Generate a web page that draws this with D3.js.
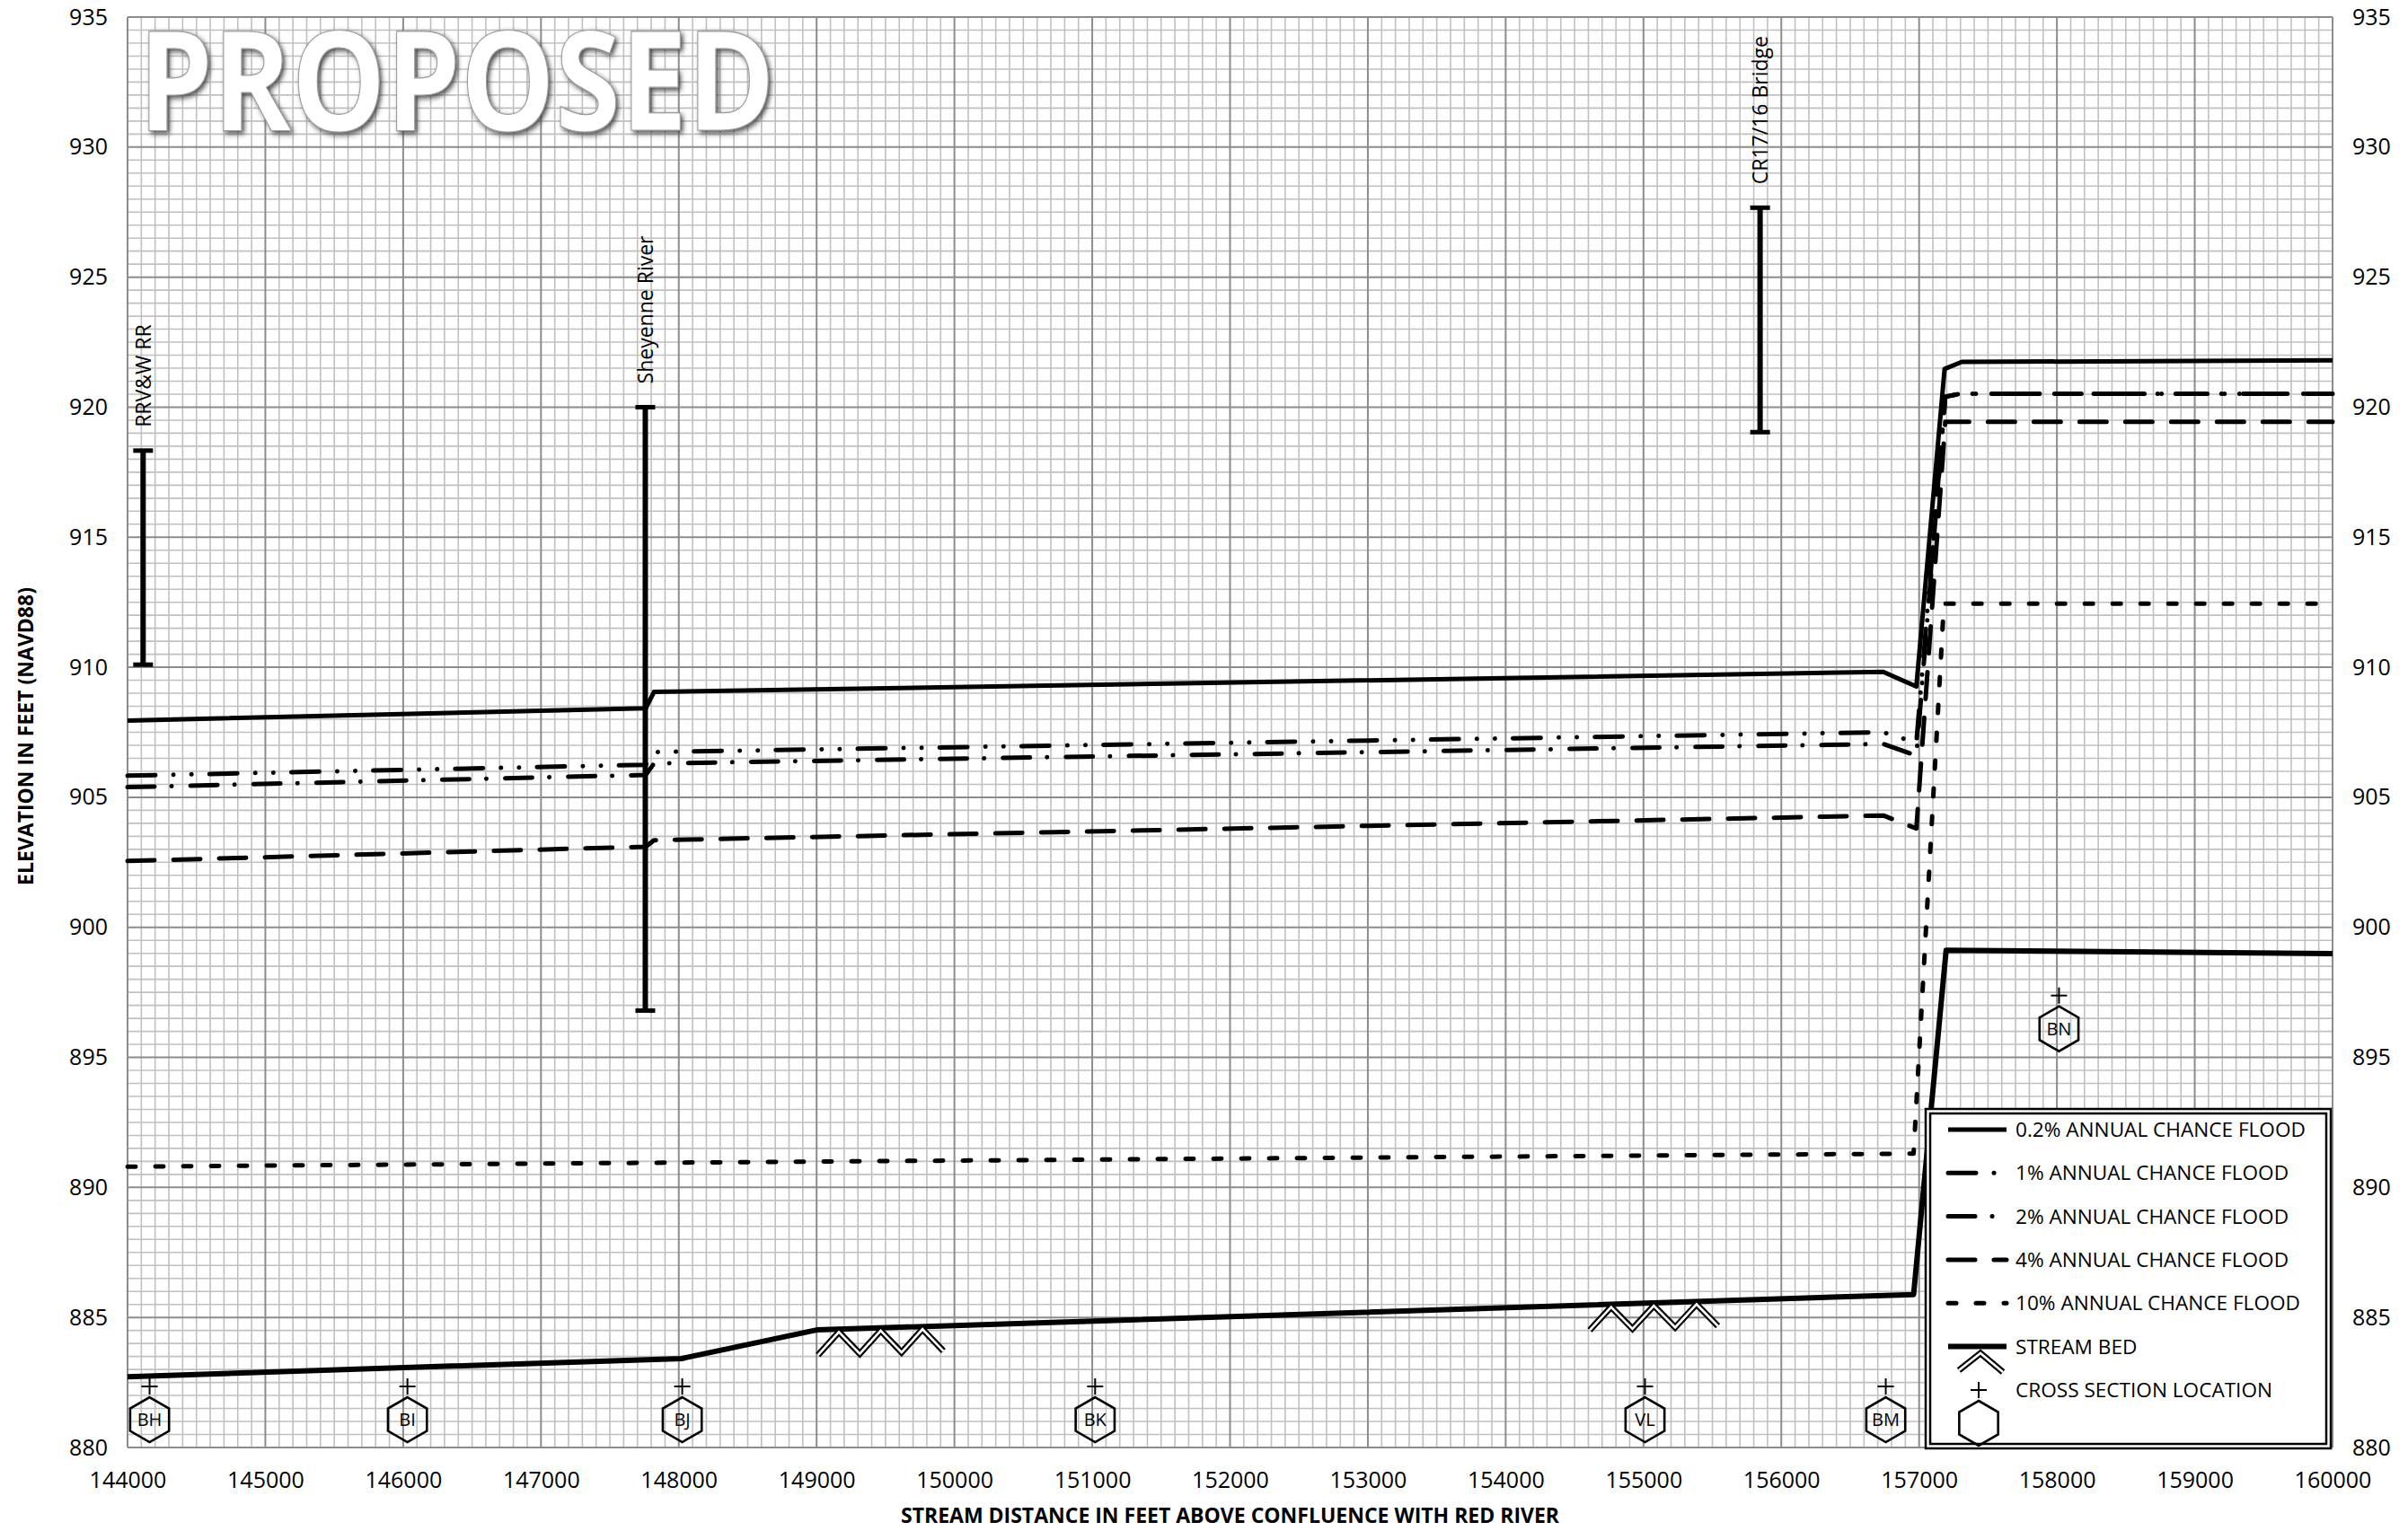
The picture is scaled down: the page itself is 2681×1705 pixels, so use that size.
<!DOCTYPE html>
<html>
<head>
<meta charset="utf-8">
<script src="https://cdn.jsdelivr.net/npm/d3@7"></script>
<style>
  body { margin: 0; background: #fff; }
  text { font-family: "Open Sans", sans-serif; }
</style>
</head>
<body>
<div id="chart"></div>
<script>

var width = 2681;
var height = 1705;
var plotLeft = 142;
var plotRight = 2597;
var plotTop = 19;
var plotBottom = 1612;

// tick labels
var xTicks = [144000, 145000, 146000, 147000, 148000, 149000, 150000, 151000, 152000,
              153000, 154000, 155000, 156000, 157000, 158000, 159000, 160000];
var yTicks = [880, 885, 890, 895, 900, 905, 910, 915, 920, 925, 930, 935];

// water surface profiles  [stream distance (ft), elevation (ft)]
var flood02 = [[144000, 907.95], [147760, 908.42], [147820, 909.05], [156740, 909.82],
               [156980, 909.26], [157185, 921.47], [157310, 921.74], [160000, 921.8]];
var flood1  = [[144000, 905.83], [147760, 906.25], [147820, 906.74], [156740, 907.5],
               [156980, 907.1], [157190, 920.4], [157300, 920.52], [160000, 920.52]];
var flood2  = [[144000, 905.39], [147760, 905.86], [147820, 906.3], [156740, 907.05],
               [156980, 906.6], [157190, 920.4], [157300, 920.52], [160000, 920.52]];
var flood4  = [[144000, 902.55], [147760, 903.1], [147820, 903.35], [156740, 904.3],
               [156980, 903.8], [157190, 919.44], [160000, 919.44]];
var flood10 = [[144000, 890.8], [156960, 891.3], [157180, 912.45], [160000, 912.45]];
var streamBed = [[144000, 882.72], [148020, 883.42], [149000, 884.52], [156960, 885.88],
                 [157196, 899.12], [160000, 898.99]];

// bridges / crossings
var bridgeNames = ["RRV&W RR", "Sheyenne River", "CR17/16 Bridge"];
var bridgeStations = [144113, 147757, 155846];
var bridgeTops = [918.33, 920.0, 927.67];
var bridgeBottoms = [910.1, 896.8, 919.04];

// cross sections
var xsLabels = ["BH", "BI", "BJ", "BK", "VL", "BM", "BN"];
var xsStations = [144160, 146031, 148025, 151021, 155011, 156758, 158015];
var xsElev = [881.07, 881.07, 881.07, 881.07, 881.07, 881.07, 896.1];

// stream bed symbol runs
var chevronStarts = [149010, 154610];
var chevronEnds = [149920, 155540];

var legendLabels = ["0.2% ANNUAL CHANCE FLOOD", "1% ANNUAL CHANCE FLOOD", "2% ANNUAL CHANCE FLOOD",
                    "4% ANNUAL CHANCE FLOOD", "10% ANNUAL CHANCE FLOOD", "STREAM BED",
                    "CROSS SECTION LOCATION"];

var series = [
  {data: flood02, dash: null, w: 5},
  {data: flood1, dash: "31,20,0.1,20,0.1,20", w: 5},
  {data: flood2, dash: "30,19,0.1,21", w: 5},
  {data: flood4, dash: "30,21", w: 5},
  {data: flood10, dash: "9,22", w: 5},
  {data: streamBed, dash: null, w: 6}
];

var svg = d3.select("#chart")
    .append("svg")
        .attr("width", width)
        .attr("height", height)
        ;

var defs = svg.append("defs");
var filt = defs.append("filter")
    .attr("id", "shadow")
    .attr("x", "-10%").attr("y", "-20%")
    .attr("width", "130%").attr("height", "150%");
filt.append("feDropShadow")
    .attr("dx", 3).attr("dy", 3)
    .attr("stdDeviation", 3)
    .attr("flood-color", "#3a3a3a")
    .attr("flood-opacity", 0.9);

var x = d3.scaleLinear()
    .domain([144000, 160000])
    .range([plotLeft, plotRight])
    ;

var y = d3.scaleLinear()
    .domain([880, 935])
    .range([plotBottom, plotTop])
    ;

// grid
var grid = svg.append("g");
var minorX = d3.range(0, 161).map(function(i) { return 144000 + i * 100; });
var minorY = d3.range(0, 111).map(function(i) { return 880 + i * 0.5; });

grid.selectAll(".mx")
    .data(minorX.filter(function(d) { return d % 1000 != 0; }))
    .enter().append("line")
    .attr("x1", function(d) { return x(d); })
    .attr("x2", function(d) { return x(d); })
    .attr("y1", plotTop).attr("y2", plotBottom)
    .attr("stroke", "#c0c0c0").attr("stroke-width", 1.6)
    ;
grid.selectAll(".my")
    .data(minorY.filter(function(d, i) { return i % 10 != 0; }))
    .enter().append("line")
    .attr("y1", function(d) { return y(d); })
    .attr("y2", function(d) { return y(d); })
    .attr("x1", plotLeft).attr("x2", plotRight)
    .attr("stroke", "#c0c0c0").attr("stroke-width", 1.6)
    ;
grid.selectAll(".MX")
    .data(xTicks)
    .enter().append("line")
    .attr("x1", function(d) { return x(d); })
    .attr("x2", function(d) { return x(d); })
    .attr("y1", plotTop).attr("y2", plotBottom)
    .attr("stroke", "#8c8c8c").attr("stroke-width", 2)
    ;
grid.selectAll(".MY")
    .data(yTicks)
    .enter().append("line")
    .attr("y1", function(d) { return y(d); })
    .attr("y2", function(d) { return y(d); })
    .attr("x1", plotLeft).attr("x2", plotRight)
    .attr("stroke", "#8c8c8c").attr("stroke-width", 2)
    ;

// watermark, squeezed to the width it has in the original
var mark = svg.append("g");
var markText = mark.append("text")
    .attr("x", 0)
    .attr("y", 0)
    .attr("font-family", "'Liberation Sans', Arial, sans-serif")
    .attr("font-size", 154)
    .attr("font-weight", "bold")
    .attr("fill", "#fff")
    .attr("stroke", "#9a9a9a")
    .attr("stroke-width", 1.2)
    .attr("filter", "url(#shadow)")
    .text("PROPOSED")
    ;
var markScale = 709 / markText.node().getComputedTextLength();
mark.attr("transform", "translate(154,145) scale(" + markScale + ",1)");

var line = d3.line()
    .x(function(d) { return x(d[0]); })
    .y(function(d) { return y(d[1]); })
    ;

svg.selectAll(".profile")
    .data(series)
    .enter().append("path")
    .attr("class", "profile")
    .attr("fill", "none")
    .attr("stroke", "#000")
    .attr("stroke-width", function(d) { return d.w; })
    .attr("stroke-dasharray", function(d) { return d.dash; })
    .attr("stroke-linecap", function(d) { return d.dash ? "round" : "butt"; })
    .attr("stroke-linejoin", "round")
    .attr("d", function(d) { return line(d.data); })
    ;

// bridges
bridgeNames.forEach(function(name, i) {
  var bx = x(bridgeStations[i]);
  var g = svg.append("g");
  g.append("line")
      .attr("x1", bx).attr("x2", bx)
      .attr("y1", y(bridgeTops[i])).attr("y2", y(bridgeBottoms[i]))
      .attr("stroke", "#000").attr("stroke-width", 6);
  [bridgeTops[i], bridgeBottoms[i]].forEach(function(v) {
    g.append("line")
        .attr("x1", bx - 11).attr("x2", bx + 11)
        .attr("y1", y(v)).attr("y2", y(v))
        .attr("stroke", "#000").attr("stroke-width", 5);
  });
  g.append("text")
      .attr("transform", "translate(" + bx + "," + (y(bridgeTops[i]) - 26) + ") rotate(-90)")
      .attr("dy", "0.36em")
      .attr("font-size", 23)
      .text(name);
});

// stream bed symbols
function bedAt(s) {
  for (var i = 1; i < streamBed.length; i++) {
    if (s <= streamBed[i][0]) {
      var a = streamBed[i - 1], b = streamBed[i];
      return a[1] + (b[1] - a[1]) * (s - a[0]) / (b[0] - a[0]);
    }
  }
  return streamBed[streamBed.length - 1][1];
}

function chevronPath(s0, s1) {
  var pts = [];
  for (var k = 0; k <= 6; k++) {
    var s = s0 + (s1 - s0) * k / 6;
    var top = y(bedAt(s)) + 3;
    pts.push([x(s), k % 2 ? top : top + 25]);
  }
  return d3.line()(pts);
}

function drawChevron(g, d) {
  g.append("path").attr("d", d).attr("fill", "none")
      .attr("stroke", "#000").attr("stroke-width", 7).attr("stroke-linejoin", "miter");
  g.append("path").attr("d", d).attr("fill", "none")
      .attr("stroke", "#fff").attr("stroke-width", 2.6).attr("stroke-linejoin", "miter");
}

chevronStarts.forEach(function(s0, i) {
  drawChevron(svg.append("g"), chevronPath(s0, chevronEnds[i]));
});

// cross sections
function hexPath(cx, cy, r) {
  var pts = d3.range(6).map(function(k) {
    var a = (-90 + 60 * k) * Math.PI / 180;
    return [cx + r * Math.cos(a), cy + r * Math.sin(a)];
  });
  return "M" + pts.join("L") + "Z";
}

function drawSection(g, cx, cy, label) {
  g.append("path").attr("d", hexPath(cx, cy, 25))
      .attr("fill", "none").attr("stroke", "#000").attr("stroke-width", 2.6);
  g.append("line").attr("x1", cx - 9).attr("x2", cx + 9)
      .attr("y1", cy - 37).attr("y2", cy - 37).attr("stroke", "#000").attr("stroke-width", 2);
  g.append("line").attr("x1", cx).attr("x2", cx)
      .attr("y1", cy - 46).attr("y2", cy - 28).attr("stroke", "#000").attr("stroke-width", 2);
  if (label) {
    g.append("text").attr("x", cx).attr("y", cy).attr("dy", "0.36em")
        .attr("text-anchor", "middle").attr("font-size", 20).text(label);
  }
}

xsLabels.forEach(function(lab, i) {
  drawSection(svg.append("g"), x(xsStations[i]), y(xsElev[i]), lab);
});

// legend
var legend = svg.append("g");
legend.append("rect")
    .attr("x", 2144).attr("y", 1235).attr("width", 451).attr("height", 378)
    .attr("fill", "#fff").attr("stroke", "#000").attr("stroke-width", 2.5);
legend.append("rect")
    .attr("x", 2149).attr("y", 1240).attr("width", 441).attr("height", 368)
    .attr("fill", "none").attr("stroke", "#000").attr("stroke-width", 2.5);

var rowY = function(i) { return 1258 + i * 48.3; };

series.forEach(function(s, i) {
  legend.append("line")
      .attr("x1", 2169).attr("x2", 2234)
      .attr("y1", rowY(i)).attr("y2", rowY(i))
      .attr("stroke", "#000")
      .attr("stroke-width", s.w)
      .attr("stroke-dasharray", s.dash)
      .attr("stroke-linecap", s.dash ? "round" : "butt");
});
drawChevron(legend, d3.line()([[2181, 1526], [2205, 1507], [2230, 1528]]));
drawSection(legend, 2203, 1585, null);

legend.selectAll(".lt")
    .data(legendLabels)
    .enter().append("text")
    .attr("x", 2244)
    .attr("y", function(d, i) { return rowY(i); })
    .attr("dy", "0.36em")
    .attr("font-size", 22.6)
    .text(function(d) { return d; })
    ;

// axes
var xAxis = d3.axisBottom(x).tickValues(xTicks).tickFormat(d3.format("d")).tickSize(0).tickPadding(27);
var yAxisL = d3.axisLeft(y).tickValues(yTicks).tickFormat(d3.format("d")).tickSize(0).tickPadding(22);
var yAxisR = d3.axisRight(y).tickValues(yTicks).tickFormat(d3.format("d")).tickSize(0).tickPadding(22);

[[xAxis, "translate(0," + plotBottom + ")"],
 [yAxisL, "translate(" + plotLeft + ",0)"],
 [yAxisR, "translate(" + plotRight + ",0)"]].forEach(function(a) {
  var g = svg.append("g").attr("transform", a[1]).call(a[0]);
  g.select(".domain").remove();
  g.selectAll("text")
      .attr("font-family", "Open Sans")
      .attr("font-size", 25)
      .attr("fill", "#000");
});

svg.append("text")
    .attr("x", (plotLeft + plotRight) / 2)
    .attr("y", 1688)
    .attr("dy", "0.36em")
    .attr("text-anchor", "middle")
    .attr("font-size", 23)
    .attr("font-weight", "bold")
    .text("STREAM DISTANCE IN FEET ABOVE CONFLUENCE WITH RED RIVER")
    ;

svg.append("text")
    .attr("transform", "translate(29,820) rotate(-90)")
    .attr("dy", "0.36em")
    .attr("text-anchor", "middle")
    .attr("font-size", 23)
    .attr("font-weight", "bold")
    .text("ELEVATION IN FEET (NAVD88)")
    ;

</script>
</body>
</html>
